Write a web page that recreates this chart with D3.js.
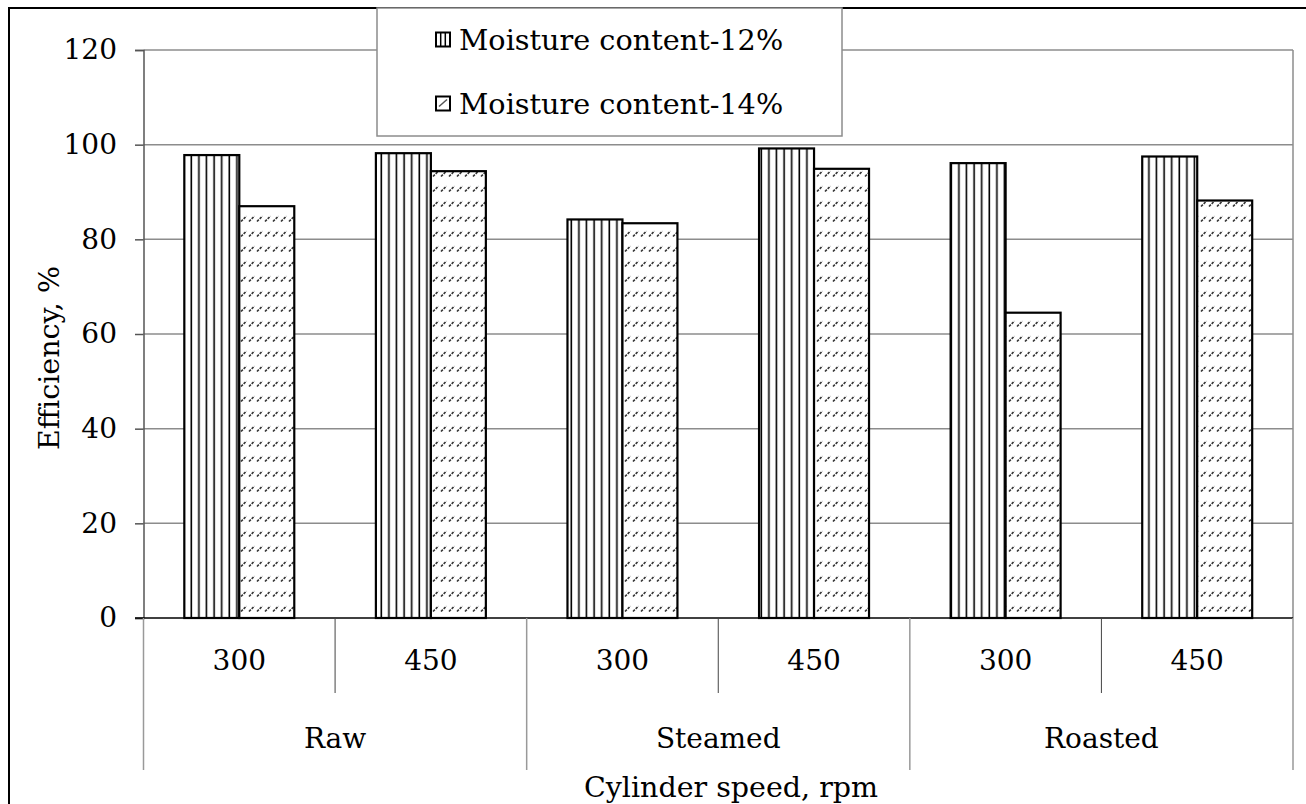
<!DOCTYPE html>
<html>
<head>
<meta charset="utf-8">
<script src="https://cdn.jsdelivr.net/npm/d3@7"></script>
<style>
  html, body { margin: 0; padding: 0; background: #fff; }
  svg { display: block; }
  text { font-family: "DejaVu Serif", serif; fill: #000; }
</style>
</head>
<body>
<svg id="chart" width="1306" height="804"></svg>
<script>
const groups = ["Raw", "Steamed", "Roasted"];
const speeds = ["300", "450"];
const seriesNames = ["Moisture content-12%", "Moisture content-14%"];
const mc12 = [97.8, 98.2, 84.2, 99.2, 96.1, 97.5];
const mc14 = [87.0, 94.4, 83.4, 94.9, 64.5, 88.2];
const yTicks = [0, 20, 40, 60, 80, 100, 120];
const yTitle = "Efficiency, %";
const xTitle = "Cylinder speed, rpm";

const svg = d3.select("#chart");
const W = 1306, H = 804;
const pLeft = 143.5, pRight = 1293, pTop = 50, pBottom = 618;

// outer frame
svg.append("rect").attr("x", 9).attr("y", 8).attr("width", W + 20).attr("height", H + 20)
  .attr("fill", "#fff").attr("stroke", "#000").attr("stroke-width", 2);

const cats = [];
groups.forEach(g => speeds.forEach(s => cats.push(g + "|" + s)));

const x0 = d3.scaleBand().domain(cats).range([pLeft, pRight]).paddingInner(0).paddingOuter(0);
const groupW = x0.bandwidth() * 0.574;
const x1 = d3.scaleBand().domain(seriesNames)
  .range([(x0.bandwidth() - groupW) / 2, (x0.bandwidth() + groupW) / 2]);
const y = d3.scaleLinear().domain([0, 120]).range([pBottom, pTop]);

// patterns
const defs = svg.append("defs");
const pv = defs.append("pattern").attr("id", "pv").attr("patternUnits", "userSpaceOnUse")
  .attr("width", 7.6).attr("height", 10).attr("x", x0(cats[0]) + x1(seriesNames[0]) + 1);
pv.append("rect").attr("width", 7.6).attr("height", 10).attr("fill", "#fff");
pv.append("line").attr("x1", 6).attr("x2", 6).attr("y1", 0).attr("y2", 10)
  .attr("stroke", "#000").attr("stroke-width", 1.6);

const pd = defs.append("pattern").attr("id", "pd").attr("patternUnits", "userSpaceOnUse")
  .attr("width", 8).attr("height", 15);
pd.append("rect").attr("width", 8).attr("height", 15).attr("fill", "#fff");
pd.append("line").attr("x1", 1).attr("y1", 11.5).attr("x2", 6.5).attr("y2", 6)
  .attr("stroke", "#333").attr("stroke-width", 1.6).attr("stroke-dasharray", "2.6,1.2");

// gridlines
svg.append("g").selectAll("line").data(yTicks.filter(t => t > 0)).join("line")
  .attr("x1", pLeft).attr("x2", pRight)
  .attr("y1", d => y(d)).attr("y2", d => y(d))
  .attr("stroke", "#8c8c8c").attr("stroke-width", 1.5);

// right plot border
svg.append("line").attr("x1", pRight).attr("x2", pRight).attr("y1", pTop).attr("y2", pBottom)
  .attr("stroke", "#8c8c8c").attr("stroke-width", 1.5);

// y axis
const yAxis = d3.axisLeft(y).tickValues(yTicks).tickSize(8.5).tickPadding(18).tickFormat(d3.format("d"));
const ya = svg.append("g").attr("transform", `translate(${pLeft},0)`).call(yAxis);
ya.select(".domain").attr("stroke", "#555").attr("stroke-width", 1.5);
ya.selectAll(".tick line").attr("stroke", "#555").attr("stroke-width", 1.5);
ya.selectAll(".tick text").style("font-family", "DejaVu Serif").style("font-size", "28px").attr("fill", "#000");

// bars
const vals = [mc12, mc14];
const fills = ["url(#pv)", "url(#pd)"];
seriesNames.forEach((s, si) => {
  svg.append("g").selectAll("rect").data(cats).join("rect")
    .attr("x", c => x0(c) + x1(s))
    .attr("y", (c, i) => y(vals[si][i]))
    .attr("width", x1.bandwidth())
    .attr("height", (c, i) => y(0) - y(vals[si][i]))
    .attr("fill", fills[si])
    .attr("stroke", "#000").attr("stroke-width", 2.2);
});

// x axis line
svg.append("line").attr("x1", pLeft - 8.5).attr("x2", pRight).attr("y1", pBottom).attr("y2", pBottom)
  .attr("stroke", "#000").attr("stroke-width", 1.5);

// category separators
cats.forEach((c, i) => {
  if (i % 2 === 0) {
    const xx = x0(c) + x0.bandwidth();
    svg.append("line").attr("x1", xx).attr("x2", xx).attr("y1", pBottom).attr("y2", 693)
      .attr("stroke", "#444").attr("stroke-width", 1);
  }
});
const groupEdges = [0, 2, 4, 6].map(i => i < 6 ? x0(cats[i]) : pRight);
groupEdges.forEach(xx => {
  svg.append("line").attr("x1", xx).attr("x2", xx).attr("y1", pBottom).attr("y2", 770)
    .attr("stroke", "#999").attr("stroke-width", 1.5);
});

// speed labels
svg.append("g").selectAll("text").data(cats).join("text")
  .attr("x", c => x0(c) + x0.bandwidth() / 2).attr("y", 670)
  .attr("text-anchor", "middle").style("font-size", "28px")
  .text(c => c.split("|")[1]);

// group labels
svg.append("g").selectAll("text").data(groups).join("text")
  .attr("x", g => (x0(g + "|" + speeds[0]) + x0(g + "|" + speeds[1]) + x0.bandwidth()) / 2)
  .attr("y", 748)
  .attr("text-anchor", "middle").style("font-size", "28px")
  .text(g => g);

// axis titles
svg.append("text").attr("x", 731).attr("y", 797).attr("text-anchor", "middle")
  .style("font-size", "28.5px").text(xTitle);
svg.append("text").attr("transform", "translate(59,358) rotate(-90)")
  .attr("text-anchor", "middle").style("font-size", "28.5px").text(yTitle);

// legend
const lg = svg.append("g");
lg.append("rect").attr("x", 377).attr("y", 8).attr("width", 465).attr("height", 128)
  .attr("fill", "#fff").attr("stroke", "#8c8c8c").attr("stroke-width", 1.5);
const legY = [40, 104];
seriesNames.forEach((s, i) => {
  const sx = 436, sy = legY[i] - 7.5;
  lg.append("rect").attr("x", sx).attr("y", sy).attr("width", 14).attr("height", 14)
    .attr("fill", "#fff").attr("stroke", "#000").attr("stroke-width", 2);
  if (i === 0) {
    [4.7, 9.3].forEach(dx => lg.append("line").attr("x1", sx + dx).attr("x2", sx + dx)
      .attr("y1", sy).attr("y2", sy + 14).attr("stroke", "#000").attr("stroke-width", 1.5));
  } else {
    lg.append("line").attr("x1", sx + 3).attr("y1", sy + 10).attr("x2", sx + 11).attr("y2", sy + 3)
      .attr("stroke", "#555").attr("stroke-width", 1.5);
  }
  lg.append("text").attr("x", 459).attr("y", legY[i] + 10).style("font-size", "28.7px").text(s);
});
</script>
</body>
</html>
